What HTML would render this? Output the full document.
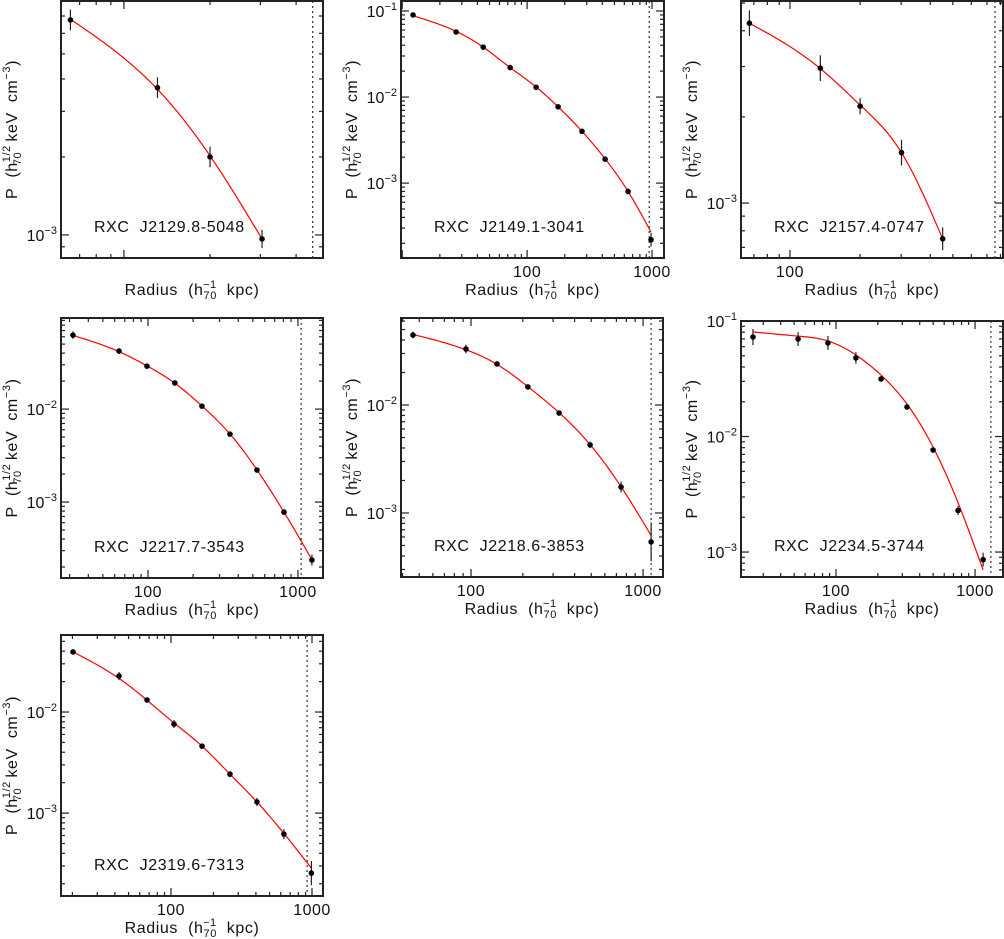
<!DOCTYPE html>
<html><head><meta charset="utf-8"><style>
html,body{margin:0;padding:0;background:#fff;}
svg{display:block;font-family:"Liberation Sans",sans-serif;}
</style></head><body>
<svg id="fig" width="1004" height="939" viewBox="0 0 1004 939"></svg>
<script>
// ---- data arrays (radius kpc, pressure) ----
const p1Name="RXC J2129.8-5048";
const p1R=[65,131,200,304];
const p1P=[6.76e-3,3.7e-3,2.0e-3,0.965e-3];
const p1E=[0.04,0.04,0.04,0.035];
const p1FitR=[65,131,200,304];
const p1FitP=[6.8e-3,3.65e-3,2.02e-3,0.965e-3];
const p1Rlim=457;

const p2Name="RXC J2149.1-3041";
const p2R=[12.2,27.0,44.5,73.1,118,177,275,421,643,982];
const p2P=[0.09,0.057,0.038,0.022,0.013,0.0077,0.0040,0.0019,8e-4,2.2e-4];
const p2E=[0.02,0.02,0.02,0.02,0.02,0.02,0.02,0.02,0.03,0.08];
const p2FitR=[12.2,27.0,44.5,73.1,118,177,275,421,643,982];
const p2FitP=[0.088,0.058,0.038,0.022,0.0131,0.0077,0.0040,0.00192,8e-4,2.7e-4];
const p2Rlim=950;

const p3Name="RXC J2157.4-0747";
const p3R=[67,135,200,301,452];
const p3P=[4.25e-3,2.96e-3,2.18e-3,1.5e-3,7.5e-4];
const p3E=[0.045,0.045,0.028,0.045,0.04];
const p3FitR=[67,135,200,301,452];
const p3FitP=[4.25e-3,2.95e-3,2.2e-3,1.5e-3,7.5e-4];
const p3Rlim=758;

const p4Name="RXC J2217.7-3543";
const p4R=[31.6,64.1,98.4,151,229,352,533,807,1239];
const p4P=[0.0625,0.0421,0.029,0.0191,0.01076,0.00538,0.00221,7.8e-4,2.38e-4];
const p4E=[0.04,0.03,0.025,0.02,0.02,0.02,0.02,0.03,0.06];
const p4FitR=[31.6,64.1,98.4,151,229,352,533,807,1239];
const p4FitP=[0.062,0.0415,0.0292,0.019,0.0108,0.0054,0.00222,7.8e-4,2.4e-4];
const p4Rlim=1050;

const p5Name="RXC J2218.6-3853";
const p5R=[46,93.5,141.6,214,325,492,745,1114];
const p5P=[0.0445,0.033,0.024,0.0147,0.00843,0.00427,0.00174,5.4e-4];
const p5E=[0.03,0.04,0.02,0.02,0.02,0.03,0.05,0.18];
const p5FitR=[46,93.5,141.6,214,325,492,745,1114];
const p5FitP=[0.045,0.0325,0.0238,0.0148,0.0085,0.0043,0.00175,6.2e-4];
const p5Rlim=1114;

const p6Name="RXC J2234.5-3744";
const p6R=[25.3,53.4,87.5,139,211,324,499,755,1143];
const p6P=[0.0727,0.0698,0.0646,0.0479,0.0315,0.018,0.00764,0.00229,8.6e-4];
const p6E=[0.07,0.06,0.06,0.05,0.02,0.02,0.02,0.04,0.06];
const p6FitR=[25.3,53.4,87.5,139,211,324,499,755,1143];
const p6FitP=[0.0804,0.074,0.0672,0.0508,0.034,0.0191,0.0081,0.00267,7e-4];
const p6Rlim=1300;

const p7Name="RXC J2319.6-7313";
const p7R=[20.2,42.8,67.6,105,166,262,407,632,990];
const p7P=[0.0393,0.0227,0.01315,0.0076,0.0046,0.00243,0.00129,6.2e-4,2.55e-4];
const p7E=[0.02,0.04,0.02,0.04,0.02,0.03,0.04,0.05,0.12];
const p7FitR=[20.2,42.8,67.6,105,166,262,407,632,990];
const p7FitP=[0.0393,0.0215,0.0131,0.0078,0.0046,0.00243,0.00129,6.3e-4,2.85e-4];
const p7Rlim=923;

const xTickLabels=[100,1000];
const yTickDecades=[-1,-2,-3];

// ---- layout (pixel boxes, log ranges) ----
const panels=[
 {id:1,name:p1Name,R:p1R,P:p1P,E:p1E,fR:p1FitR,fP:p1FitP,lim:p1Rlim,box:[61,1,323,258],xl:[1.78,2.696],yl:[-3.089,-2.097],noX:true},
 {id:2,name:p2Name,R:p2R,P:p2P,E:p2E,fR:p2FitR,fP:p2FitP,lim:p2Rlim,box:[401,1,664,258],xl:[0.99,3.096],yl:[-3.87,-0.884]},
 {id:3,name:p3Name,R:p3R,P:p3P,E:p3E,fR:p3FitR,fP:p3FitP,lim:p3Rlim,box:[741,1,1003,258],xl:[1.79,2.914],yl:[-3.192,-2.294]},
 {id:4,name:p4Name,R:p4R,P:p4P,E:p4E,fR:p4FitR,fP:p4FitP,lim:p4Rlim,box:[61,318,323,578],xl:[1.42,3.167],yl:[-3.817,-1.02]},
 {id:5,name:p5Name,R:p5R,P:p5P,E:p5E,fR:p5FitR,fP:p5FitP,lim:p5Rlim,box:[401,318,663,577],xl:[1.593,3.116],yl:[-3.593,-1.194]},
 {id:6,name:p6Name,R:p6R,P:p6P,E:p6E,fR:p6FitR,fP:p6FitP,lim:p6Rlim,box:[741,321,1003,577],xl:[1.317,3.201],yl:[-3.216,-1.0]},
 {id:7,name:p7Name,R:p7R,P:p7P,E:p7E,fR:p7FitR,fP:p7FitP,lim:p7Rlim,box:[61,635,323,896],xl:[1.22,3.078],yl:[-3.82,-1.238]}
];
const NS="http://www.w3.org/2000/svg";
const svg=document.getElementById('fig');
function mk(tag,attrs,parent){const e=document.createElementNS(NS,tag);for(const k in attrs)e.setAttribute(k,attrs[k]);parent.appendChild(e);return e;}
function spline(xs,ys){const n=xs.length;if(n<3){return x=>ys[0]+(ys[n-1]-ys[0])*(x-xs[0])/(xs[n-1]-xs[0]);}
 const h=[],a=[],l=[1],mu=[0],z=[0],c=new Array(n).fill(0),b=[],d=[];
 for(let i=0;i<n-1;i++)h.push(xs[i+1]-xs[i]);
 for(let i=1;i<n-1;i++)a[i]=3/h[i]*(ys[i+1]-ys[i])-3/h[i-1]*(ys[i]-ys[i-1]);
 for(let i=1;i<n-1;i++){l[i]=2*(xs[i+1]-xs[i-1])-h[i-1]*mu[i-1];mu[i]=h[i]/l[i];z[i]=(a[i]-h[i-1]*z[i-1])/l[i];}
 for(let j=n-2;j>=0;j--){c[j]=(j>0?z[j]:0)-mu[j]*c[j+1];if(j===0)c[0]=0;b[j]=(ys[j+1]-ys[j])/h[j]-h[j]*(c[j+1]+2*c[j])/3;d[j]=(c[j+1]-c[j])/(3*h[j]);}
 return x=>{let i=0;while(i<n-2&&x>xs[i+1])i++;const t=x-xs[i];return ys[i]+b[i]*t+c[i]*t*t+d[i]*t*t*t;};}
const S='\u00a0';

panels.forEach(p=>{
 const [L,T,Rt,B]=p.box;
 const g=mk('g',{},svg);
 
 
 const sxl=lv=>L+(lv-p.xl[0])/(p.xl[1]-p.xl[0])*(Rt-L);
 const syl=lv=>B-(lv-p.yl[0])/(p.yl[1]-p.yl[0])*(B-T);
 const sx=v=>sxl(Math.log10(v));
 const sy=v=>syl(Math.log10(v));
 const tk=mk('g',{stroke:'#222','stroke-width':1.2},g);
 
 
 for(let d=-1;d<=4;d++){for(let m=1;m<=9;m++){const v=m*Math.pow(10,d);const lv=Math.log10(v);
   if(lv>p.xl[0]&&lv<p.xl[1]){const x=sx(v);const len=m===1?8:4;
     mk('line',{x1:x,y1:B,x2:x,y2:B-len},tk);mk('line',{x1:x,y1:T,x2:x,y2:T+len},tk);}}}
 for(let d=-5;d<=0;d++){for(let m=1;m<=9;m++){const v=m*Math.pow(10,d);const lv=Math.log10(v);
   if(lv>p.yl[0]&&lv<p.yl[1]){const y=sy(v);const len=m===1?8:4;
     mk('line',{x1:L,y1:y,x2:L+len,y2:y},tk);mk('line',{x1:Rt,y1:y,x2:Rt-len,y2:y},tk);}}}
 const fr=mk('rect',{x:L,y:T,width:Rt-L,height:B-T,fill:'none',stroke:'#222','stroke-width':2},g);
 
 
 if(!p.noX)xTickLabels.forEach(v=>{const lv=Math.log10(v);if(lv>p.xl[0]&&lv<p.xl[1]){
   const t=mk('text',{x:sx(v),y:B+19,'font-size':16,'letter-spacing':0.5,'text-anchor':'middle',fill:'#111'},g);t.textContent=v;
   
   }});
 yTickDecades.forEach(d=>{if(d>=p.yl[0]-0.001&&d<=p.yl[1]+0.001){
   const y=sy(Math.pow(10,d));
   const t=mk('text',{x:L-4,y:y+6,'font-size':16,'text-anchor':'end',fill:'#111'},g);
   
   
   t.innerHTML='10<tspan dy="-7" font-size="11">\u2212'+(-d)+'</tspan>';}});
 const dl=mk('line',{x1:sx(p.lim),y1:T,x2:sx(p.lim),y2:B,stroke:'#333','stroke-width':1.2,'stroke-dasharray':'2,3'},g);
 
 
 const lx=p.fR.map(Math.log10), ly=p.fP.map(Math.log10);
 const f=spline(lx,ly);
 let d='';const N=80;
 for(let k=0;k<=N;k++){const X=lx[0]+(lx[lx.length-1]-lx[0])*k/N;d+=(k?' L':'M')+sxl(X).toFixed(2)+','+syl(f(X)).toFixed(2);}
 const c=mk('path',{d:d,fill:'none',stroke:'#f00','stroke-width':1.2},g);
 
 
 p.R.forEach((r,i)=>{const x=sx(r),v=p.P[i],e=p.E[i];
   const eb=mk('line',{x1:x,y1:sy(v*Math.pow(10,e)),x2:x,y2:sy(v*Math.pow(10,-e)),stroke:'#222','stroke-width':1.2},g);
   
   
   const pt=mk('circle',{cx:x,cy:sy(v),r:2.8,fill:'#000'},g);
   
   });
 const nm=mk('text',{x:L+33,y:B-26,'font-size':16,'letter-spacing':0.6,fill:'#111'},g);nm.textContent=p.name.replace(' ',S+S);
 
 
 const xt=mk('text',{x:(L+Rt)/2,y:B+37,'font-size':16,'letter-spacing':0.6,'text-anchor':'middle',fill:'#111'},g);
 
 
 xt.innerHTML='Radius'+S+S+'(h<tspan dy="4" font-size="11">70</tspan><tspan dx="-14" dy="-11" font-size="11">\u22121</tspan><tspan dy="7">'+S+S+'kpc)</tspan>';
 const cy=(T+B)/2;
 const yt=mk('text',{x:0,y:0,'font-size':16,'letter-spacing':0.6,'text-anchor':'middle',fill:'#111',transform:'translate('+(L-44)+','+cy+') rotate(-90)'},g);
 
 
 yt.innerHTML='P'+S+S+'(h<tspan dy="-7" font-size="11">1/2</tspan><tspan dx="-20" dy="11" font-size="11">70</tspan><tspan dy="-4">'+S+S+'keV'+S+S+'cm</tspan><tspan dy="-7" font-size="11">\u22123</tspan><tspan dy="7">)</tspan>';
});
</script>
</body></html>
